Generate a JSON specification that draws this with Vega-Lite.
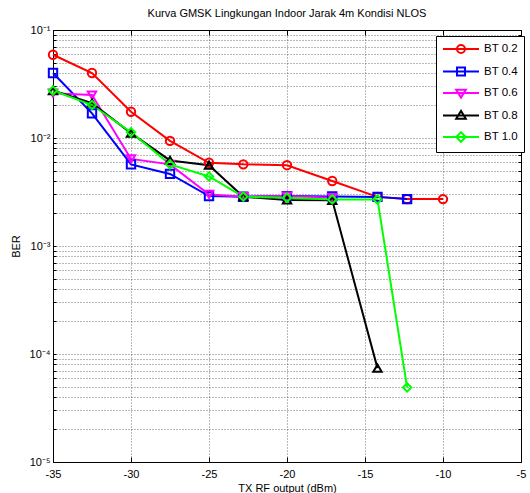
{
  "$schema": "https://vega.github.io/schema/vega-lite/v6.json",
  "width": 468,
  "height": 432,
  "autosize": "none",
  "padding": {"left": 53, "top": 30, "right": 9, "bottom": 31},
  "background": "white",
  "title": {"text": "Kurva GMSK Lingkungan Indoor Jarak 4m Kondisi NLOS", "fontSize": 11, "fontWeight": "normal", "font": "Liberation Sans", "color": "black", "offset": 5, "anchor": "middle"},
  "config": {
    "font": "Liberation Sans",
    "view": {"stroke": "black", "strokeWidth": 1},
    "axis": {"labelFont": "Liberation Sans", "titleFont": "Liberation Sans", "labelColor": "black", "titleColor": "black", "labelFontSize": 11, "titleFontSize": 11, "titleFontWeight": "normal", "tickColor": "black", "gridColor": "#000000", "gridOpacity": 0.55, "gridDash": [1, 2], "gridWidth": 1, "domain": false}
  },
  "data": {"values": [
    {"series": "BT 0.2", "x": -35, "ber": 0.059},
    {"series": "BT 0.2", "x": -32.5, "ber": 0.040},
    {"series": "BT 0.2", "x": -30, "ber": 0.0175},
    {"series": "BT 0.2", "x": -27.5, "ber": 0.0094},
    {"series": "BT 0.2", "x": -25, "ber": 0.0059},
    {"series": "BT 0.2", "x": -22.8, "ber": 0.0057},
    {"series": "BT 0.2", "x": -20, "ber": 0.0056},
    {"series": "BT 0.2", "x": -17.1, "ber": 0.0040},
    {"series": "BT 0.2", "x": -14.2, "ber": 0.00285},
    {"series": "BT 0.2", "x": -12.3, "ber": 0.00272},
    {"series": "BT 0.2", "x": -10, "ber": 0.00272},
    {"series": "BT 0.4", "x": -35, "ber": 0.040},
    {"series": "BT 0.4", "x": -32.5, "ber": 0.0169},
    {"series": "BT 0.4", "x": -30, "ber": 0.0057},
    {"series": "BT 0.4", "x": -27.5, "ber": 0.00465},
    {"series": "BT 0.4", "x": -25, "ber": 0.0029},
    {"series": "BT 0.4", "x": -22.8, "ber": 0.00286},
    {"series": "BT 0.4", "x": -20, "ber": 0.0029},
    {"series": "BT 0.4", "x": -17.1, "ber": 0.00288},
    {"series": "BT 0.4", "x": -14.2, "ber": 0.00285},
    {"series": "BT 0.4", "x": -12.3, "ber": 0.00272},
    {"series": "BT 0.6", "x": -35, "ber": 0.026},
    {"series": "BT 0.6", "x": -32.5, "ber": 0.025},
    {"series": "BT 0.6", "x": -30, "ber": 0.0064},
    {"series": "BT 0.6", "x": -27.5, "ber": 0.0057},
    {"series": "BT 0.6", "x": -25, "ber": 0.0030},
    {"series": "BT 0.6", "x": -22.8, "ber": 0.00286},
    {"series": "BT 0.6", "x": -20, "ber": 0.0029},
    {"series": "BT 0.6", "x": -17.1, "ber": 0.0028},
    {"series": "BT 0.8", "x": -35, "ber": 0.0275},
    {"series": "BT 0.8", "x": -32.5, "ber": 0.021},
    {"series": "BT 0.8", "x": -30, "ber": 0.0111},
    {"series": "BT 0.8", "x": -27.5, "ber": 0.0062},
    {"series": "BT 0.8", "x": -25, "ber": 0.0056},
    {"series": "BT 0.8", "x": -22.8, "ber": 0.00286},
    {"series": "BT 0.8", "x": -20, "ber": 0.00267},
    {"series": "BT 0.8", "x": -17.1, "ber": 0.00265},
    {"series": "BT 0.8", "x": -14.2, "ber": 0.000074},
    {"series": "BT 1.0", "x": -35, "ber": 0.0275},
    {"series": "BT 1.0", "x": -32.5, "ber": 0.0202},
    {"series": "BT 1.0", "x": -30, "ber": 0.0113},
    {"series": "BT 1.0", "x": -27.5, "ber": 0.0057},
    {"series": "BT 1.0", "x": -25, "ber": 0.0044},
    {"series": "BT 1.0", "x": -22.8, "ber": 0.00286},
    {"series": "BT 1.0", "x": -20, "ber": 0.0028},
    {"series": "BT 1.0", "x": -17.1, "ber": 0.0027},
    {"series": "BT 1.0", "x": -14.2, "ber": 0.0027},
    {"series": "BT 1.0", "x": -12.3, "ber": 0.000049}
  ]},
  "layer": [
    {
      "mark": {"type": "line", "strokeWidth": 2},
      "encoding": {
        "x": {"field": "x", "type": "quantitative", "scale": {"domain": [-35, -5], "nice": false, "zero": false},
          "axis": {"orient": "bottom", "values": [-35, -30, -25, -20, -15, -10, -5], "labelExpr": "'' + datum.value", "labelFlush": false, "grid": true, "tickSize": -5, "labelPadding": 11, "title": "TX RF output (dBm)", "titlePadding": 3}},
        "y": {"field": "ber", "type": "quantitative", "scale": {"type": "log", "domain": [0.00001, 0.1], "nice": false},
          "axis": {"orient": "left", "values": [0.00001, 0.00002, 0.00003, 0.00004, 0.00005, 0.00006, 0.00007, 0.00008, 0.00009, 0.0001, 0.0002, 0.0003, 0.0004, 0.0005, 0.0006, 0.0007, 0.0008, 0.0009, 0.001, 0.002, 0.003, 0.004, 0.005, 0.006, 0.007, 0.008, 0.009, 0.01, 0.02, 0.03, 0.04, 0.05, 0.06, 0.07, 0.08, 0.09, 0.1],
            "labelExpr": "datum.value==0.1?'10⁻¹':datum.value==0.01?'10⁻²':datum.value==0.001?'10⁻³':datum.value==0.0001?'10⁻⁴':datum.value==0.00001?'10⁻⁵':''",
            "labelFlush": false, "grid": true, "tickSize": -3, "labelPadding": 6, "title": "BER", "titlePadding": 8}},
        "color": {"field": "series", "type": "nominal",
          "scale": {"domain": ["BT 0.2", "BT 0.4", "BT 0.6", "BT 0.8", "BT 1.0"], "range": ["#ff0000", "#0000ff", "#ff00ff", "#000000", "#00ff00"]},
          "legend": {"title": null, "orient": "none", "legendX": 383, "legendY": 6, "fillColor": "white", "strokeColor": "black", "padding": 6, "cornerRadius": 0,
            "symbolSize": 144, "symbolStrokeWidth": 2, "labelOffset": 28, "labelFontSize": 11.5, "labelFont": "Liberation Sans", "labelColor": "black", "rowPadding": 4.5,
            "encode": {"symbols": {"update": {"shape": {"signal": "datum.value==='BT 0.2'?'M-1,0H5M2.67,0A0.67,0.67 0 1,1 1.33,0A0.67,0.67 0 1,1 2.67,0':datum.value==='BT 0.4'?'M-1,0H5M1.33,-0.67H2.67V0.67H1.33Z':datum.value==='BT 0.6'?'M-1,0H5M1.2,-0.55H2.8L2,0.75Z':datum.value==='BT 0.8'?'M-1,0H5M1.2,0.55H2.8L2,-0.75Z':'M-1,0H5M2,-0.8L2.8,0L2,0.8L1.2,0Z'"}, "fill": {"value": "transparent"}}}}}}
      }
    },
    {
      "mark": {"type": "point", "filled": false, "strokeWidth": 2, "size": 70, "opacity": 1},
      "encoding": {
        "x": {"field": "x", "type": "quantitative", "scale": {"domain": [-35, -5], "nice": false, "zero": false},
          "axis": {"orient": "top", "values": [-35, -30, -25, -20, -15, -10, -5], "labels": false, "grid": false, "tickSize": -5, "title": null}},
        "y": {"field": "ber", "type": "quantitative", "scale": {"type": "log", "domain": [0.00001, 0.1], "nice": false},
          "axis": {"orient": "right", "values": [0.00001, 0.00002, 0.00003, 0.00004, 0.00005, 0.00006, 0.00007, 0.00008, 0.00009, 0.0001, 0.0002, 0.0003, 0.0004, 0.0005, 0.0006, 0.0007, 0.0008, 0.0009, 0.001, 0.002, 0.003, 0.004, 0.005, 0.006, 0.007, 0.008, 0.009, 0.01, 0.02, 0.03, 0.04, 0.05, 0.06, 0.07, 0.08, 0.09, 0.1], "labels": false, "grid": false, "tickSize": -3, "title": null}},
        "stroke": {"field": "series", "type": "nominal",
          "scale": {"range": ["#ff0000", "#0000ff", "#ff00ff", "#000000", "#00ff00"]}, "legend": null},
        "shape": {"field": "series", "type": "nominal",
          "scale": {"range": ["circle", "square", "triangle-down", "triangle-up", "diamond"]}, "legend": null}
      }
    }
  ],
  "resolve": {"axis": {"x": "independent", "y": "independent"}}
}
